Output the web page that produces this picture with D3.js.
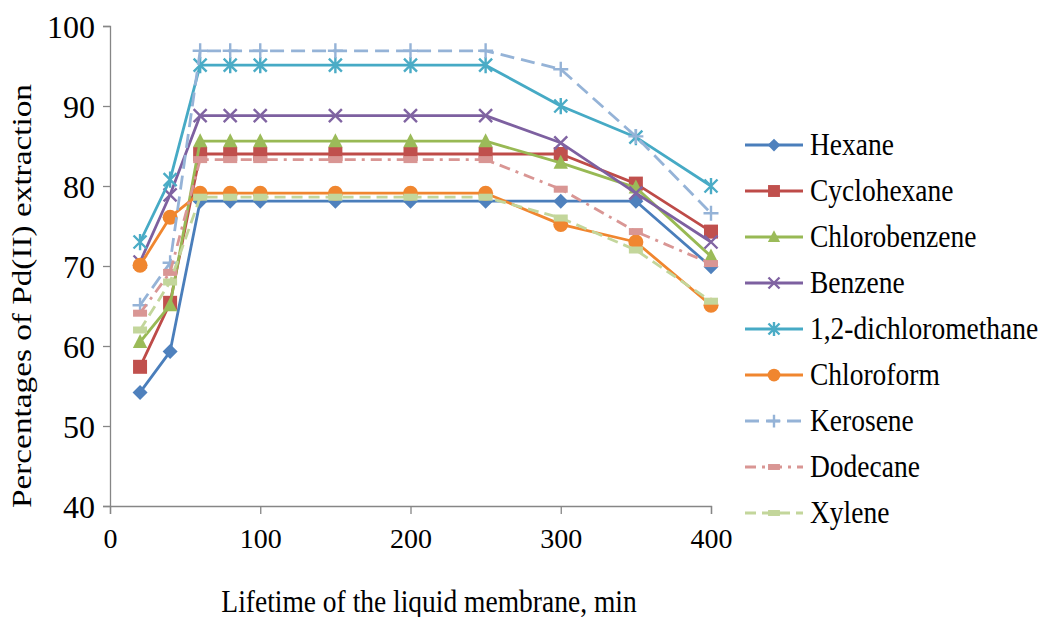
<!DOCTYPE html>
<html><head><meta charset="utf-8">
<script src="https://cdn.jsdelivr.net/npm/d3@7"></script>
<style>html,body{margin:0;padding:0;background:#fff;} svg{display:block;} text{font-family:"Liberation Serif","Times New Roman",serif;}</style>
</head><body>
<svg id="chart" width="1043" height="617"></svg>
<script>
const minutes = [20, 40, 60, 80, 100, 150, 200, 250, 300, 350, 400];
const seriesNames = ["Hexane","Cyclohexane","Chlorobenzene","Benzene","1,2-dichloromethane","Chloroform","Kerosene","Dodecane","Xylene"];
const hexane          = [54.2, 59.3, 78.1, 78.1, 78.1, 78.1, 78.1, 78.1, 78.1, 78.1, 69.9];
const cyclohexane     = [57.4, 65.4, 84.0, 84.0, 84.0, 84.0, 84.0, 84.0, 84.0, 80.3, 74.3];
const chlorobenzene   = [60.5, 65.1, 85.6, 85.6, 85.6, 85.6, 85.6, 85.6, 82.9, 79.8, 71.2];
const benzene         = [70.5, 78.9, 88.8, 88.8, 88.8, 88.8, 88.8, 88.8, 85.4, 79.1, 73.0];
const dichloromethane = [73.0, 80.8, 95.1, 95.1, 95.1, 95.1, 95.1, 95.1, 90.0, 86.1, 80.0];
const chloroform      = [70.1, 76.1, 79.1, 79.1, 79.1, 79.1, 79.1, 79.1, 75.2, 73.0, 65.1];
const kerosene        = [65.1, 70.4, 96.9, 96.9, 96.9, 96.9, 96.9, 96.9, 94.6, 86.2, 76.6];
const dodecane        = [64.1, 69.2, 83.3, 83.3, 83.3, 83.3, 83.3, 83.3, 79.6, 74.3, 70.3];
const xylene          = [62.0, 68.0, 78.6, 78.6, 78.6, 78.6, 78.6, 78.6, 76.0, 72.0, 65.6];
const xTicks = [0, 100, 200, 300, 400];
const yTicks = [40, 50, 60, 70, 80, 90, 100];

const allValues = [hexane, cyclohexane, chlorobenzene, benzene, dichloromethane, chloroform, kerosene, dodecane, xylene];
const styles = [
  {color:"#4A7EBB", mcolor:"#4F81BD", marker:"diamond", dash:null},
  {color:"#BE4B48", mcolor:"#C0504D", marker:"square", dash:null},
  {color:"#98B954", mcolor:"#9BBB59", marker:"triangle", dash:null},
  {color:"#7D60A0", mcolor:"#8064A2", marker:"x", dash:null},
  {color:"#46AAC5", mcolor:"#4BACC6", marker:"star", dash:null},
  {color:"#F0862F", mcolor:"#F0862F", marker:"circle", dash:null},
  {color:"#95B3D7", mcolor:"#95B3D7", marker:"plus", dash:"14,7"},
  {color:"#D99694", mcolor:"#D99694", marker:"bar", dash:"11,6,3,6"},
  {color:"#C3D69B", mcolor:"#C3D69B", marker:"bar", dash:"11,6"}
];

const svg = d3.select("#chart");
const x = d3.scaleLinear().domain([0, 400]).range([110, 711]);
const y = d3.scaleLinear().domain([40, 100]).range([506, 26]);
const axisColor = "#868686";
const font = '"Liberation Serif","Times New Roman",serif';

// Y axis
const yAxis = svg.append("g").attr("transform", "translate(110,0)")
  .call(d3.axisLeft(y).tickValues(yTicks).tickSize(7).tickPadding(8));
yAxis.attr("font-family", null);
yAxis.select(".domain").attr("stroke", axisColor).attr("stroke-width", 1.3);
yAxis.selectAll(".tick line").attr("stroke", axisColor).attr("stroke-width", 1.3);
yAxis.selectAll(".tick text").style("font-family", font).style("font-size", "32px").attr("fill", "#000").attr("dy", "0.36em");

// X axis
const xAxis = svg.append("g").attr("transform", "translate(0,506)")
  .call(d3.axisBottom(x).tickValues(xTicks).tickSize(8).tickPadding(14));
xAxis.attr("font-family", null);
xAxis.select(".domain").attr("stroke", axisColor).attr("stroke-width", 1.3);
xAxis.selectAll(".tick line").attr("stroke", axisColor).attr("stroke-width", 1.3);
xAxis.selectAll(".tick text").style("font-family", font).style("font-size", "28px").attr("fill", "#000");

// Axis titles
svg.append("text").attr("transform", "translate(429,612) scale(1,1.12)").attr("text-anchor", "middle")
  .style("font-family", font).style("font-size", "27.5px").attr("fill", "#000")
  .text("Lifetime of the liquid membrane, min");
svg.append("text").attr("transform", "translate(31,296) rotate(-90)").attr("text-anchor", "middle")
  .style("font-family", font).style("font-size", "28px").attr("fill", "#000")
  .attr("textLength", 424).attr("lengthAdjust", "spacingAndGlyphs")
  .text("Percentages of Pd(II) extraction");

function drawMarker(g, type, color, cx, cy, scale) {
  const s = scale || 1;
  if (type === "diamond") {
    const r = 7.5 * s;
    g.append("path").attr("d", `M${cx},${cy-r}L${cx+r},${cy}L${cx},${cy+r}L${cx-r},${cy}Z`).attr("fill", color);
  } else if (type === "square") {
    const r = 7 * s;
    g.append("rect").attr("x", cx-r).attr("y", cy-r).attr("width", 2*r).attr("height", 2*r).attr("fill", color);
  } else if (type === "triangle") {
    const r = 8 * s;
    g.append("path").attr("d", `M${cx},${cy-r}L${cx+r*0.9},${cy+r*0.75}L${cx-r*0.9},${cy+r*0.75}Z`).attr("fill", color);
  } else if (type === "x") {
    const r = 6.5 * s;
    g.append("path").attr("d", `M${cx-r},${cy-r}L${cx+r},${cy+r}M${cx-r},${cy+r}L${cx+r},${cy-r}`).attr("stroke", color).attr("stroke-width", 2.4).attr("fill","none");
  } else if (type === "star") {
    const r = 6.5 * s;
    g.append("path").attr("d", `M${cx-r},${cy-r}L${cx+r},${cy+r}M${cx-r},${cy+r}L${cx+r},${cy-r}M${cx},${cy-r*1.25}L${cx},${cy+r*1.25}`).attr("stroke", color).attr("stroke-width", 2.4).attr("fill","none");
  } else if (type === "circle") {
    g.append("circle").attr("cx", cx).attr("cy", cy).attr("r", 7.5 * s).attr("fill", color);
  } else if (type === "plus") {
    const r = 7.5 * s;
    g.append("path").attr("d", `M${cx-r},${cy}L${cx+r},${cy}M${cx},${cy-r}L${cx},${cy+r}`).attr("stroke", color).attr("stroke-width", 2.4).attr("fill","none");
  } else if (type === "bar") {
    const w = 7 * s, h = 3.5 * s;
    g.append("rect").attr("x", cx-w).attr("y", cy-h).attr("width", 2*w).attr("height", 2*h).attr("fill", color);
  }
}

const line = d3.line().x(d => x(d[0])).y(d => y(d[1]));
const plot = svg.append("g");
allValues.forEach((vals, i) => {
  const st = styles[i];
  const pts = minutes.map((m, j) => [m, vals[j]]);
  const g = plot.append("g");
  g.append("path").datum(pts).attr("d", line).attr("fill", "none")
    .attr("stroke", st.color).attr("stroke-width", 2.8)
    .attr("stroke-dasharray", st.dash).attr("stroke-linejoin", "round");
  pts.forEach(p => drawMarker(g, st.marker, st.mcolor, x(p[0]), y(p[1]), 1));
});

// Legend
const leg = svg.append("g");
seriesNames.forEach((name, i) => {
  const st = styles[i];
  const cy = 145 + i * 46;
  const g = leg.append("g");
  g.append("line").attr("x1", 745).attr("x2", 803).attr("y1", cy).attr("y2", cy)
    .attr("stroke", st.color).attr("stroke-width", 2.8).attr("stroke-dasharray", st.dash);
  drawMarker(g, st.marker, st.mcolor, 774, cy, 0.85);
  g.append("text").attr("transform", `translate(810,${cy + 10}) scale(1,1.12)`)
    .style("font-family", font).style("font-size", "27.5px").attr("fill", "#000").text(name);
});
</script>
</body></html>
